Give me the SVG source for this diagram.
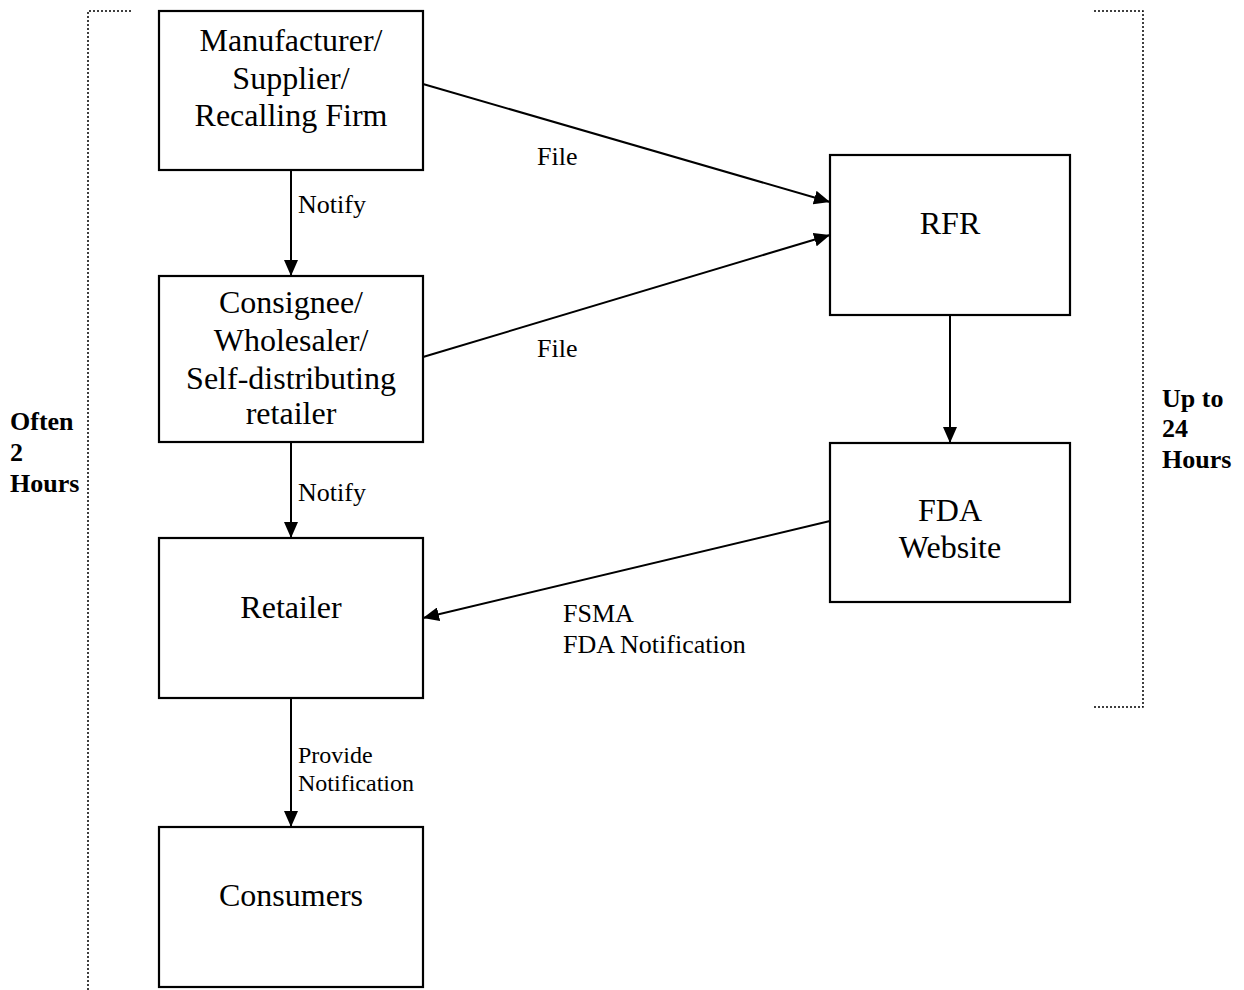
<svg xmlns="http://www.w3.org/2000/svg" width="1244" height="990" viewBox="0 0 1244 990">
<defs>
<marker id="ah" markerWidth="16" markerHeight="14" refX="16" refY="7" orient="auto" markerUnits="userSpaceOnUse" viewBox="0 0 16 14">
<path d="M0,0 L16,7 L0,14 z" fill="#000"/>
</marker>
<style>
.box{fill:#fff;stroke:#000;stroke-width:2.2}
.bt{font-family:"Liberation Serif","Times New Roman",serif;font-size:32px;text-anchor:middle;fill:#000}
.lb{font-family:"Liberation Serif","Times New Roman",serif;font-size:26px;fill:#000}
.lb3{font-family:"Liberation Serif","Times New Roman",serif;font-size:24px;fill:#000}
.side{font-family:"Liberation Serif","Times New Roman",serif;font-size:26px;font-weight:bold;fill:#000}
.br{fill:none;stroke:#000;stroke-width:1.5;stroke-dasharray:2 2}
.cn{stroke:#000;stroke-width:2;fill:none;marker-end:url(#ah)}
</style>
</defs>
<rect width="1244" height="990" fill="#fff"/>
<g id="brackets">
<path class="br" d="M131,11 H88 V990"/>
<path class="br" d="M1094,11 H1143 V707 H1094"/>
<text class="side" x="10" y="430">Often</text>
<text class="side" x="10" y="461">2</text>
<text class="side" x="10" y="492">Hours</text>
<text class="side" x="1162" y="407">Up to</text>
<text class="side" x="1162" y="437">24</text>
<text class="side" x="1162" y="468">Hours</text>
</g>
<g id="connectors">
<line class="cn" x1="291" y1="170" x2="291" y2="276"/>
<line class="cn" x1="291" y1="442" x2="291" y2="538"/>
<line class="cn" x1="291" y1="698" x2="291" y2="827"/>
<line class="cn" x1="423" y1="84" x2="830" y2="202"/>
<line class="cn" x1="423" y1="357" x2="830" y2="235"/>
<line class="cn" x1="950" y1="315" x2="950" y2="443"/>
<line class="cn" x1="830" y1="521" x2="423" y2="618"/>
<text class="lb" x="298" y="213">Notify</text>
<text class="lb" x="537" y="165">File</text>
<text class="lb" x="537" y="357">File</text>
<text class="lb" x="298" y="501">Notify</text>
<text class="lb3" x="298" y="763">Provide</text>
<text class="lb3" x="298" y="791">Notification</text>
<text class="lb" x="563" y="622">FSMA</text>
<text class="lb" x="563" y="653">FDA Notification</text>
</g>
<g id="manufacturer">
<rect class="box" x="159" y="11" width="264" height="159"/>
<text class="bt" x="291" y="51">Manufacturer/</text>
<text class="bt" x="291" y="89">Supplier/</text>
<text class="bt" x="291" y="126">Recalling Firm</text>
</g>
<g id="consignee">
<rect class="box" x="159" y="276" width="264" height="166"/>
<text class="bt" x="291" y="313">Consignee/</text>
<text class="bt" x="291" y="351">Wholesaler/</text>
<text class="bt" x="291" y="389">Self-distributing</text>
<text class="bt" x="291" y="424">retailer</text>
</g>
<g id="retailer">
<rect class="box" x="159" y="538" width="264" height="160"/>
<text class="bt" x="291" y="618">Retailer</text>
</g>
<g id="consumers">
<rect class="box" x="159" y="827" width="264" height="160"/>
<text class="bt" x="291" y="906">Consumers</text>
</g>
<g id="rfr">
<rect class="box" x="830" y="155" width="240" height="160"/>
<text class="bt" x="950" y="234">RFR</text>
</g>
<g id="fda">
<rect class="box" x="830" y="443" width="240" height="159"/>
<text class="bt" x="950" y="521">FDA</text>
<text class="bt" x="950" y="558">Website</text>
</g>
</svg>
